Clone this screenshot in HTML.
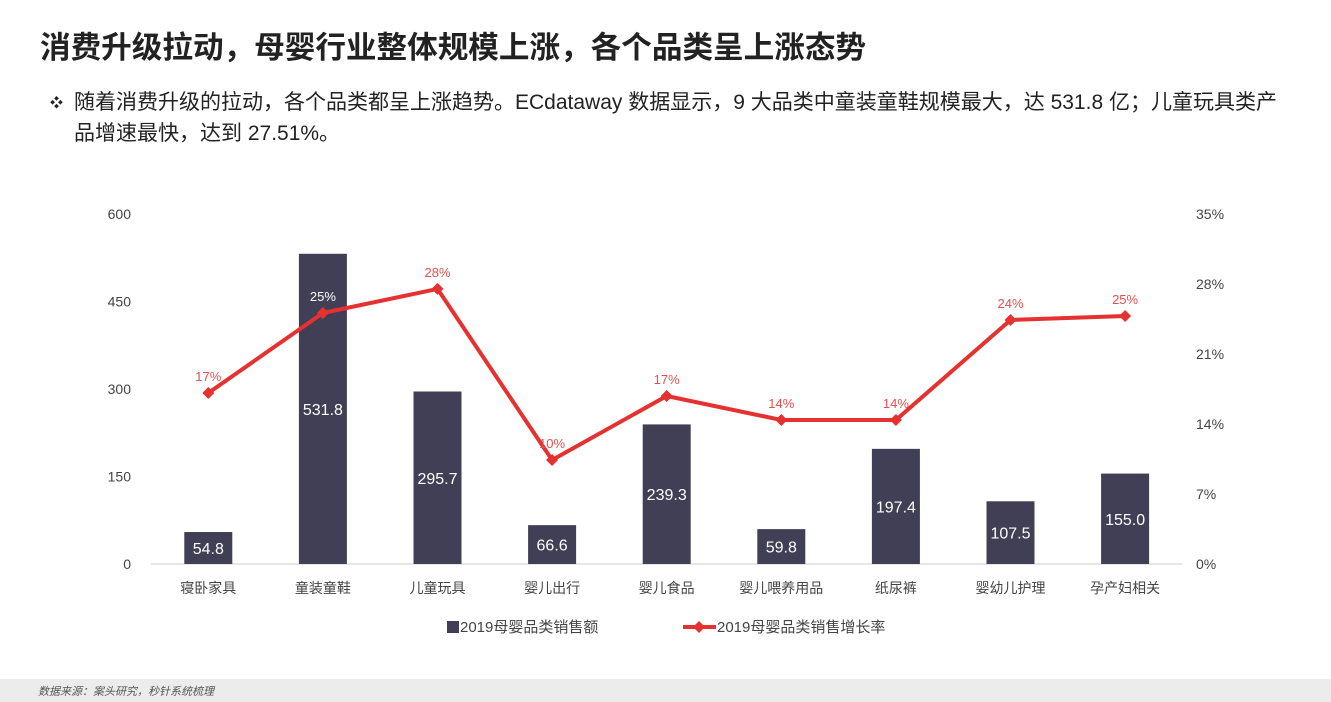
<!DOCTYPE html>
<html><head><meta charset="utf-8">
<style>
body{margin:0;width:1331px;height:702px;background:#fff;overflow:hidden;position:relative;font-family:"Liberation Sans","Noto Sans CJK SC",sans-serif;}
.title{position:absolute;left:40px;top:23px;font-size:30.6px;font-weight:bold;color:#222;}
.desc{position:absolute;left:50px;top:87px;width:1280px;font-size:21px;line-height:31px;color:#222;white-space:nowrap;}
.desc .b{position:absolute;left:0;top:0;font-size:13px;}
.desc .t{margin-left:24px;}
.foot{position:absolute;left:0;top:679px;width:1331px;height:23px;background:#ececec;}
.foot span{position:absolute;left:38px;top:4px;font-size:11px;font-style:italic;color:#555;}
svg{position:absolute;left:0;top:0;}
</style></head><body>
<div class="title">消费升级拉动，母婴行业整体规模上涨，各个品类呈上涨态势</div>
<div class="desc"><span class="b">❖</span><div class="t">随着消费升级的拉动，各个品类都呈上涨趋势。ECdataway 数据显示，9 大品类中童装童鞋规模最大，达 531.8 亿；儿童玩具类产<br>品增速最快，达到 27.51%。</div></div>
<svg id="chart" width="1331" height="702"></svg>
<div class="foot"><span>数据来源：案头研究，秒针系统梳理</span></div>
<script>
const categories=["寝卧家具","童装童鞋","儿童玩具","婴儿出行","婴儿食品","婴儿喂养用品","纸尿裤","婴幼儿护理","孕产妇相关"];
const sales=[54.8,531.8,295.7,66.6,239.3,59.8,197.4,107.5,155.0];
const growth=[17.1,25.1,27.51,10.4,16.8,14.4,14.4,24.4,24.8];
const leftTicks=[0,150,300,450,600];
const rightTicks=[0,7,14,21,28,35];
const svg=document.getElementById('chart');
const NS='http://www.w3.org/2000/svg';
const y0=564,yTop=214,x0=151,step=114.6;
const yL=v=>y0-(v/600)*(y0-yTop);
const yR=v=>y0-(v/35)*(y0-yTop);
const xC=i=>x0+step*(i+0.5);
function mk(t,a,txt){const e=document.createElementNS(NS,t);for(const k in a)e.setAttribute(k,a[k]);if(txt!==undefined)e.textContent=txt;svg.appendChild(e);return e;}
leftTicks.forEach(v=>{const e=mk('text',{x:131,y:yL(v)+5,'text-anchor':'end','font-size':14,fill:'#444'},v);
});
rightTicks.forEach(v=>{const e=mk('text',{x:1196,y:yR(v)+5,'text-anchor':'start','font-size':14,fill:'#444'},v+'%');
});
const ax=mk('line',{x1:x0,x2:x0+step*9,y1:y0,y2:y0,stroke:'#ccc','stroke-width':1});

categories.forEach((c,i)=>{
 const h=y0-yL(sales[i]);
 const r=mk('rect',{x:xC(i)-24,y:yL(sales[i]),width:48,height:h,fill:'#403f55'});
 
 const t=mk('text',{x:xC(i),y:yL(sales[i])+h/2+6,'text-anchor':'middle','font-size':16,fill:'#fff'},sales[i].toFixed(1));
 
 const l=mk('text',{x:xC(i),y:593,'text-anchor':'middle','font-size':14,fill:'#444'},c);
 
});
const pts=growth.map((g,i)=>xC(i)+','+yR(g)).join(' ');
const pl=mk('polyline',{points:pts,fill:'none',stroke:'#e5312f','stroke-width':4,'stroke-linejoin':'round'});

growth.forEach((g,i)=>{
 const x=xC(i),y=yR(g);
 const d=mk('path',{d:`M${x} ${y-6}L${x+6} ${y}L${x} ${y+6}L${x-6} ${y}Z`,fill:'#e5312f'});
 
 const t=mk('text',{x:x,y:y-12,'text-anchor':'middle','font-size':13,fill:i==1?'#fff':'#e5504e'},Math.round(g)+'%');
 
});
const lg1=mk('rect',{x:447,y:621,width:12,height:12,fill:'#403f55'});

const lt1=mk('text',{x:460,y:632,'font-size':15,fill:'#444'},'2019母婴品类销售额');

const lg2=mk('line',{x1:683,x2:716,y1:627,y2:627,stroke:'#e5312f','stroke-width':4});

const lg3=mk('path',{d:'M699 621L705 627L699 633L693 627Z',fill:'#e5312f'});

const lt2=mk('text',{x:717,y:632,'font-size':15,fill:'#444'},'2019母婴品类销售增长率');

</script>
</body></html>
